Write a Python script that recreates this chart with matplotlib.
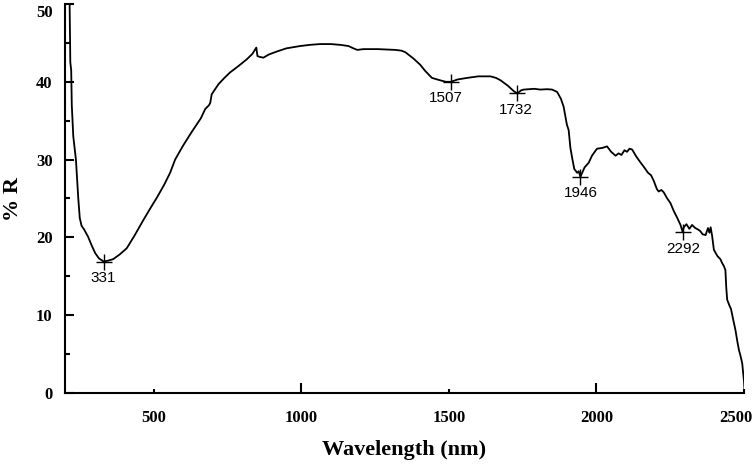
import matplotlib
matplotlib.use("Agg")
import matplotlib.pyplot as plt
import matplotlib.transforms as mtransforms
from matplotlib.font_manager import FontProperties

wavelength = [215, 217, 218, 221, 223, 228, 237, 245, 250, 256, 265, 278, 290, 302, 315, 331,
              345, 363, 385, 409, 435, 465, 490, 511, 535, 556, 573, 600, 630, 660, 675, 688,
              692, 697, 720, 740, 759, 790, 816, 835, 848, 852, 860, 872, 890, 918, 950, 997,
              1030, 1064, 1100, 1132, 1160, 1177, 1190, 1200, 1211, 1260, 1319, 1340, 1353,
              1380, 1403, 1420, 1443, 1470, 1490, 1507, 1530, 1562, 1600, 1641, 1660, 1675,
              1700, 1720, 1732, 1745, 1754, 1790, 1810, 1833, 1850, 1867, 1880, 1889, 1900,
              1906, 1912, 1918, 1925, 1935, 1940, 1946, 1952, 1960, 1974, 1985, 2002, 2020,
              2036, 2050, 2065, 2075, 2085, 2095, 2104, 2112, 2121, 2135, 2150, 2160, 2175,
              2185, 2194, 2205, 2211, 2220, 2228, 2240, 2251, 2262, 2274, 2285, 2292, 2296,
              2305, 2315, 2324, 2335, 2345, 2352, 2360, 2370, 2378, 2383, 2387, 2392, 2398,
              2410, 2420, 2426, 2432, 2437, 2440, 2443, 2450, 2456, 2463, 2471, 2478, 2483,
              2488, 2494, 2500, 2502]
reflectance = [52, 46, 42.5, 41.5, 37, 33, 30, 25, 22.5, 21.5, 21.0, 20.1, 19.0, 18.0, 17.3, 16.9,
               17.0, 17.2, 17.8, 18.6, 20.2, 22.2, 23.8, 25.1, 26.7, 28.3, 30.0, 31.8, 33.6, 35.3,
               36.5, 37.0, 37.3, 38.4, 39.7, 40.5, 41.2, 42.1, 42.9, 43.6, 44.4, 43.3, 43.2, 43.1,
               43.5, 43.9, 44.3, 44.6, 44.75, 44.85, 44.85, 44.75, 44.6, 44.3, 44.1, 44.15, 44.2,
               44.2, 44.1, 44.0, 43.8, 43.0, 42.2, 41.4, 40.5, 40.2, 40.0, 40.0, 40.3, 40.5, 40.7,
               40.7, 40.5, 40.2, 39.5, 38.8, 38.5, 38.9, 39.0, 39.1, 39.0, 39.05, 39.0, 38.7, 37.8,
               36.8, 34.5, 33.8, 31.5, 30.2, 28.8, 28.3, 28.5, 27.8, 28.3, 29.0, 29.6, 30.5, 31.4,
               31.5, 31.7, 31.0, 30.5, 30.8, 30.6, 31.2, 31.0, 31.4, 31.3, 30.4, 29.6, 29.1, 28.3,
               28.0, 27.3, 26.2, 25.9, 26.1, 25.8, 25.0, 24.4, 23.4, 22.5, 21.6, 20.7, 21.3, 21.7,
               21.1, 21.6, 21.2, 21.0, 20.8, 20.4, 20.3, 21.2, 20.6, 21.3, 20.2, 18.4, 17.6, 17.2,
               16.7, 16.3, 15.8, 13.5, 12.0, 11.3, 10.8, 9.5, 8.1, 6.5, 5.5, 4.8, 3.8, 1.5, 0.2]

peak_wl = [331, 1507, 1732, 1946, 2292]
peak_r = [16.9, 40.0, 38.5, 27.8, 20.7]
peak_labels = ["331", "1507", "1732", "1946", "2292"]

x_ticks = [500, 1000, 1500, 2000, 2500]
y_ticks = [0, 10, 20, 30, 40, 50]

fig = plt.figure(figsize=(7.56, 4.65), dpi=100)
ax = fig.add_axes([65 / 756, 1 - 393 / 465, (744 - 65) / 756, (393 - 4) / 465])

ax.plot(wavelength, reflectance, color="black", linewidth=1.3, clip_on=True)

label_dx = [0, -5, -1, 0, 1]
for wl, r, lab, dx in zip(peak_wl, peak_r, peak_labels, label_dx):
    ax.plot([wl], [r], marker="+", markersize=11, mew=1.0, color="black")
    ax.annotate(lab, xy=(wl, r), xytext=(dx * 0.72, -12), textcoords="offset points",
                ha="center", va="center", fontsize=11, family="Liberation Sans")

ax.set_xlim(200, 2500)
ax.set_ylim(0, 50)

for s in ["top", "right"]:
    ax.spines[s].set_visible(False)
for s in ["left", "bottom"]:
    ax.spines[s].set_linewidth(1.5)

ax.set_xticks(x_ticks)
ax.set_xticklabels([str(t) for t in x_ticks])
ax.set_yticks(y_ticks)
ax.set_yticklabels([str(t) for t in y_ticks])
ax.set_yticks([5, 15, 25, 35, 45], minor=True)

fp = FontProperties(family="Liberation Serif", weight="bold", size=12)
for lab in ax.get_xticklabels() + ax.get_yticklabels():
    lab.set_fontproperties(fp)

ax.tick_params(axis="x", direction="in", width=1.5, length=7, pad=12.5)
ax.tick_params(axis="y", which="major", direction="in", width=1.5, length=6.5, pad=9)
ax.tick_params(axis="y", which="minor", direction="in", width=1.5, length=3.5)

for t, val in zip(ax.xaxis.get_major_ticks(), x_ticks):
    if val % 1000 != 0:
        t.tick1line.set_markersize(3)

last = ax.get_xticklabels()[-1]
last.set_transform(last.get_transform() + mtransforms.ScaledTranslation(-8 / 100, 0, fig.dpi_scale_trans))

top = ax.get_yticklabels()[-1]
top.set_transform(top.get_transform() + mtransforms.ScaledTranslation(0, -7 / 100, fig.dpi_scale_trans))

ax.set_xlabel("Wavelength (nm)", family="Liberation Serif", weight="bold", fontsize=16, labelpad=10)
ax.set_ylabel("% R", family="Liberation Serif", weight="bold", fontsize=16)
ax.yaxis.set_label_coords((23 - 65) / 679, 0.5)

fig.savefig("out.png", dpi=100)
